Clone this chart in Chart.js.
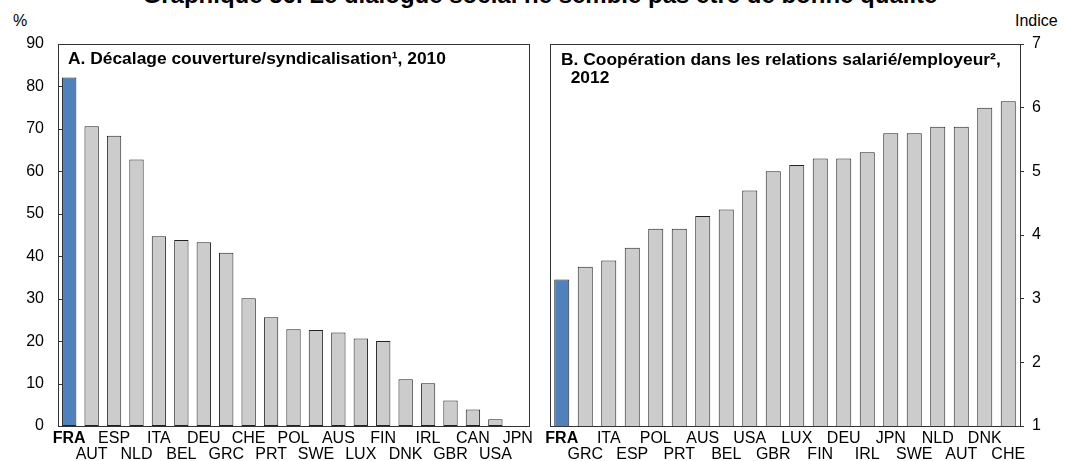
<!DOCTYPE html>
<html>
<head>
<meta charset="utf-8">
<script src="https://cdn.jsdelivr.net/npm/chart.js@4/dist/chart.umd.min.js"></script>
<style>
  body { margin:0; background:#fff; width:1069px; height:461px; overflow:hidden; position:relative; font-family:"Liberation Sans", Arial, sans-serif; color:#000; }
  canvas { position:absolute; top:0; }
  .lbl { position:absolute; white-space:nowrap; }
  .ttl { font-weight:bold; font-size:17.4px; line-height:18px; }
</style>
</head>
<body>
<div class="lbl" id="mainTitle" style="left:0;width:1080px;text-align:center;top:-17px;font-size:24px;line-height:24px;font-weight:bold;">Graphique 56. Le dialogue social ne semble pas être de bonne qualité</div>
<div class="lbl" style="left:13px;top:12px;font-size:16px;">%</div>
<div class="lbl" style="left:1015px;top:12px;font-size:16px;">Indice</div>
<canvas id="chartA" width="545" height="461" style="left:0;"></canvas>
<canvas id="chartB" width="529" height="461" style="left:540px;"></canvas>
<div class="lbl ttl" style="left:68px;top:49px;">A. Décalage couverture/syndicalisation¹, 2010</div>
<div class="lbl ttl" style="left:561px;top:50px;">B. Coopération dans les relations salarié/employeur²,<br>&nbsp;&nbsp;2012</div>
<script>
// Panel A : écart couverture / syndicalisation (%)
const catsA = ['FRA','AUT','ESP','NLD','ITA','BEL','DEU','GRC','CHE','PRT','POL','SWE','AUS','LUX','FIN','DNK','IRL','GBR','CAN','USA','JPN'];
const valsA = [82.1,70.6,68.4,62.8,44.7,43.8,43.3,40.8,30.1,25.6,22.8,22.6,22.0,20.6,20.0,11.0,10.1,6.0,3.9,1.6,0];
const ticksA = [0,10,20,30,40,50,60,70,80,90];

// Panel B : coopération salarié/employeur (indice)
const catsB = ['FRA','GRC','ITA','ESP','POL','PRT','AUS','BEL','USA','GBR','LUX','FIN','DEU','IRL','JPN','SWE','NLD','AUT','DNK','CHE'];
const valsB = [3.3,3.5,3.6,3.8,4.1,4.1,4.3,4.4,4.7,5.0,5.1,5.2,5.2,5.3,5.6,5.6,5.7,5.7,6.0,6.1];
const ticksB = [1,2,3,4,5,6,7];

const FONT = '"Liberation Sans", Arial, sans-serif';
const BLUE = '#4f81bd', GREY = '#cccccc';

// frame around plot area + inner ticks when asked
const boxPlugin = {
  id: 'box',
  afterDatasetsDraw(chart, args, opts) {
    const a = chart.chartArea, c = chart.ctx;
    c.save();
    c.strokeStyle = '#333';
    c.lineWidth = 1;
    c.strokeRect(Math.round(a.left)+0.5, Math.round(a.top)+0.5, Math.round(a.right-a.left), Math.round(a.bottom-a.top));
    if (opts.innerTicks) {
      const y = chart.scales.y;
      y.ticks.forEach(t => {
        const py = Math.round(y.getPixelForValue(t.value))+0.5;
        c.beginPath(); c.moveTo(a.left, py); c.lineTo(a.left+5, py); c.stroke();
      });
    }
    c.restore();
  }
};

function twoRows(cats) {
  return cats.map((c,i) => i % 2 === 0 ? [c, ''] : ['', c]);
}

function makeChart(id, cats, vals, ticks, side, pad, yWidth, innerTicks) {
  return new Chart(document.getElementById(id), {
    type: 'bar',
    data: {
      labels: twoRows(cats),
      datasets: [{
        data: vals,
        backgroundColor: cats.map(c => c === 'FRA' ? BLUE : GREY),
        borderColor: '#222',
        borderWidth: 1,
        borderSkipped: false,
        barPercentage: 0.64,
        categoryPercentage: 1
      }]
    },
    options: {
      responsive: false,
      animation: false,
      layout: { padding: pad },
      plugins: { legend: { display: false }, tooltip: { enabled: false }, box: { innerTicks } },
      scales: {
        x: {
          grid: { display: false, drawTicks: false },
          border: { display: false },
          ticks: {
            autoSkip: false, maxRotation: 0, minRotation: 0, padding: 5, color: '#000',
            font: ctx => ({ family: FONT, size: 16, lineHeight: 1.0, weight: ctx.index === 0 ? 'bold' : 'normal' })
          },
          afterFit: s => { s.height = 35; }
        },
        y: {
          position: side,
          min: ticks[0], max: ticks[ticks.length-1],
          afterBuildTicks: s => { s.ticks = ticks.map(v => ({ value: v })); },
          grid: { display: !innerTicks, drawOnChartArea: false, drawTicks: true, tickLength: 4, color: '#333' },
          border: { display: false },
          ticks: { color: '#000', padding: innerTicks ? 10 : 8, font: { family: FONT, size: 16 } },
          afterFit: s => { s.width = yWidth; }
        }
      }
    },
    plugins: [boxPlugin]
  });
}

makeChart('chartA', catsA, valsA, ticksA, 'left', { top: 44, left: 0, right: 16, bottom: 0 }, 58, true);
makeChart('chartB', catsB, valsB, ticksB, 'right', { top: 44, left: 10, right: 0, bottom: 0 }, 49, false);
</script>
</body>
</html>
